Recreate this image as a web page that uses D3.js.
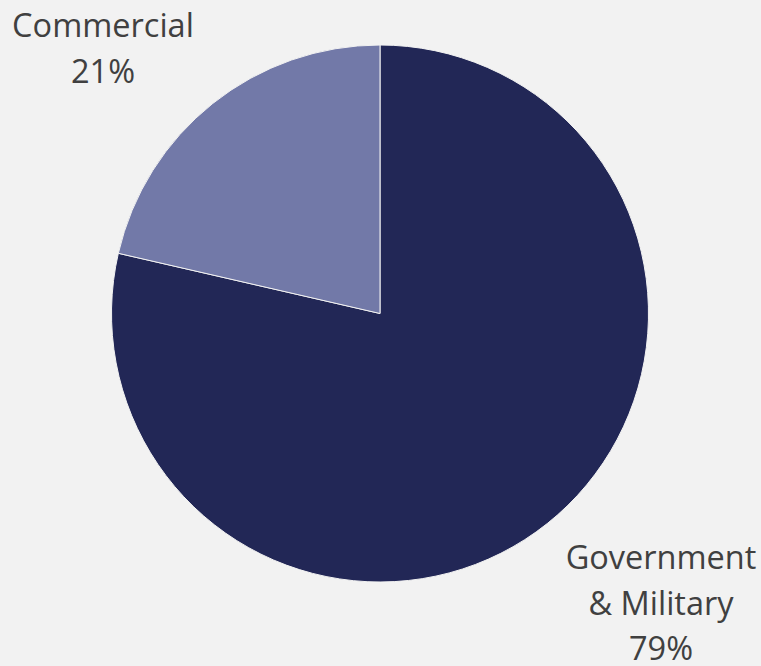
<!DOCTYPE html>
<html>
<head>
<meta charset="utf-8">
<script src="https://cdn.jsdelivr.net/npm/d3@7"></script>
<style>
  html, body { margin: 0; padding: 0; background: #f2f2f2; }
  svg { display: block; }
</style>
</head>
<body>
<svg id="chart"></svg>
<script>
const categories = ['Government & Military', 'Commercial']
const shares = [78.6, 21.4]
const labelLines = [['Government', '& Military'], ['Commercial']]
const colors = ['#222756', '#7279a8']

const width = 761
const height = 666
const cx = 380
const cy = 313.5
const radius = 268.5

const svg = d3.select('#chart')
  .attr('width', width)
  .attr('height', height)

svg.append('rect')
  .attr('width', width)
  .attr('height', height)
  .attr('fill', '#f2f2f2')

const total = d3.sum(shares)
const pct = d3.format('.0%')
const data = categories.map((name, i) => ({
  name,
  value: shares[i],
  lines: labelLines[i].concat(pct(shares[i] / total)),
  color: colors[i]
}))

const pie = d3.pie().value(d => d.value).sort(null)
const arc = d3.arc().innerRadius(0).outerRadius(radius)

const g = svg.append('g').attr('transform', `translate(${cx},${cy})`)

g.selectAll('path')
  .data(pie(data))
  .enter().append('path')
  .attr('d', arc)
  .attr('fill', d => d.data.color)
  .attr('stroke', '#f2f2f2')
  .attr('stroke-width', 1)

// label anchors (outside the pie, as in the original layout)
const labelPos = [{ x: 661, y: 569 }, { x: 103, y: 37 }]
const lineHeight = 45.5

data.forEach((d, i) => {
  const t = svg.append('text')
    .attr('text-anchor', 'middle')
    .attr('font-family', 'Open Sans, sans-serif')
    .attr('font-size', 32.5)
    .attr('fill', '#404040')
  d.lines.forEach((line, j) => {
    t.append('tspan')
      .attr('x', labelPos[i].x)
      .attr('y', labelPos[i].y + j * lineHeight)
      .text(line)
  })
})
</script>
</body>
</html>
